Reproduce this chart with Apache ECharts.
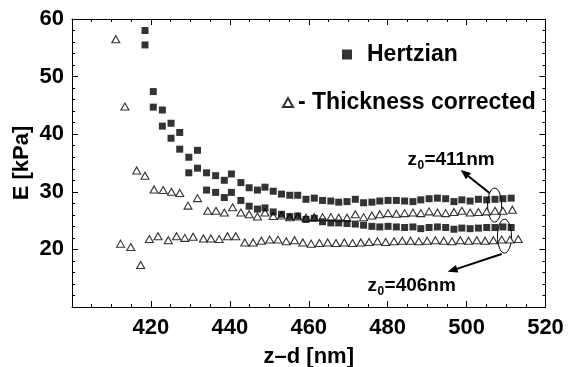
<!DOCTYPE html>
<html>
<head>
<meta charset="utf-8">
<script src="https://cdn.jsdelivr.net/npm/echarts@6/dist/echarts.min.js"></script>
<style>html,body{margin:0;padding:0;background:#fff}#c{width:568px;height:367px}</style>
</head>
<body>
<div id="c"></div>
<script>
// ---- data ----
const xSquares = [418.5, 420.6, 422.9, 425.1, 427.3, 429.6, 431.8, 434.1, 436.4, 438.6, 440.4, 442.8, 444.9, 447.0, 448.9,
  451.0, 453.1, 455.2, 457.2, 459.3, 461.4, 463.5, 465.6, 467.6, 469.7, 471.8, 473.9, 476.0, 478.0, 480.1,
  482.2, 484.3, 486.4, 488.4, 490.5, 492.6, 494.7, 496.8, 498.8, 500.9, 503.0, 505.1, 507.2, 509.2, 511.3];
const hertzianUpper = [58.0, 47.4, 44.2, 41.9, 40.3, 36.0, 37.2, 33.3, 32.8, 32.0, 33.1, 31.6, 30.7, 30.3, 30.8,
  30.1, 29.6, 29.4, 29.4, 28.7, 28.9, 28.5, 28.4, 28.2, 28.3, 28.7, 28.1, 28.2, 28.4, 28.5,
  28.5, 28.4, 28.3, 28.6, 28.8, 28.9, 28.8, 28.3, 28.6, 28.4, 28.7, 28.6, 28.7, 28.8, 28.9];
const hertzianLower = [55.5, 44.7, 41.4, 39.3, 37.4, 33.3, 34.1, 30.3, 29.9, 29.0, 29.9, 28.5, 27.5, 27.0, 27.2,
  26.5, 26.1, 25.7, 25.8, 25.2, 25.4, 24.8, 24.6, 24.6, 24.5, 24.4, 24.2, 24.0, 23.9, 24.0,
  23.9, 23.8, 23.9, 23.6, 23.8, 23.9, 23.8, 23.5, 23.7, 23.6, 23.7, 23.8, 23.8, 23.9, 23.8];
const xTriUpper = [411.1, 413.4, 416.4, 418.5, 420.8, 423.1, 425.2, 427.3, 429.4, 431.8, 434.4, 436.5, 438.6, 440.7, 442.8, 444.9, 447.0, 448.9,
  451.0, 453.1, 455.2, 457.2, 459.3, 461.4, 463.5, 465.6, 467.6, 469.7, 471.8, 473.9, 476.0, 478.0, 480.1,
  482.2, 484.3, 486.4, 488.4, 490.5, 492.6, 494.7, 496.8, 498.8, 500.9, 503.0, 505.1, 507.2, 509.2, 511.6];
const thickUpper = [56.5, 44.8, 33.7, 32.8, 30.4, 30.3, 30.0, 29.8, 27.6, 28.9, 26.7, 26.7, 26.4, 27.3, 26.4, 26.1, 25.7, 26.4,
  25.8, 25.9, 25.6, 25.7, 25.5, 25.6, 25.6, 25.6, 25.5, 25.5, 26.1, 25.6, 25.9, 26.1, 26.3,
  26.2, 26.3, 26.4, 26.3, 26.6, 26.4, 26.3, 26.5, 26.7, 26.4, 26.5, 26.6, 26.7, 26.7, 26.9];
const xTriLower = [412.3, 414.9, 417.4, 419.6, 421.8, 424.4, 426.5, 428.6, 430.7, 433.3, 435.2, 437.3, 439.4, 441.5, 443.8, 445.9, 448.0, 450.1,
  452.2, 454.3, 456.4, 458.5, 460.6, 462.7, 464.8, 466.9, 469.0, 471.1, 473.2, 475.3, 477.4, 479.5, 481.6,
  483.7, 485.8, 487.9, 490.0, 492.1, 494.2, 496.3, 498.4, 500.5, 502.6, 504.7, 506.8, 508.9, 511.0, 513.1];
const thickLower = [21.0, 20.4, 17.3, 21.8, 22.3, 21.6, 22.3, 22.0, 22.2, 21.9, 21.9, 21.8, 22.3, 22.3, 21.2, 21.2, 21.5, 21.7,
  21.7, 21.4, 21.6, 21.2, 21.0, 21.1, 21.2, 21.1, 21.2, 21.1, 21.2, 21.3, 21.4, 21.3, 21.4,
  21.5, 21.5, 21.4, 21.5, 21.6, 21.5, 21.4, 21.6, 21.5, 21.6, 21.5, 21.6, 21.7, 21.7, 21.8];
const xTicks = { min: 400, max: 520, interval: 20 };
const yTicks = { min: 10, max: 60, interval: 10 };
const legendNames = ['Hertzian', 'Thickness corrected'];
const annot411 = { label: '=411nm', text: [485.0, 35.6], ellipse: [507.1, 27.7], from: [505.8, 29.8], to: [498.5, 33.8] };
const annot406 = { label: '=406nm', text: [474.9, 13.65], ellipse: [509.6, 22.3], from: [508.9, 19.2], to: [495.2, 16.1] };

// ---- chart ----
const FONT = '"Liberation Sans", Arial, Helvetica, sans-serif';
const pair = (xs, ys) => xs.map((x, i) => [x, ys[i]]);
const chart = echarts.init(document.getElementById('c'), null, { renderer: 'canvas' });

function axisCommon(showLabel, pos) {
  return {
    position: pos,
    axisLine: { show: true, onZero: false, lineStyle: { color: '#000', width: 1 } },
    axisTick: { show: true, inside: true, length: 6, lineStyle: { color: '#000' } },
    minorTick: { show: true, length: 3, lineStyle: { color: '#000' } },
    splitLine: { show: false },
    axisLabel: { show: showLabel, fontSize: 22, fontWeight: 'bold', color: '#000', fontFamily: FONT, showMinLabel: false }
  };
}
const xa = (show, pos) => Object.assign({ type: 'value', min: xTicks.min, max: xTicks.max, interval: xTicks.interval }, axisCommon(show, pos));
const ya = (show, pos) => Object.assign({ type: 'value', min: yTicks.min, max: yTicks.max, interval: yTicks.interval }, axisCommon(show, pos));

const xBottom = xa(true, 'bottom');
xBottom.minorTick.splitNumber = 4;
xBottom.axisLabel.margin = 10;
xBottom.name = 'z\u2013d [nm]';
xBottom.nameLocation = 'middle';
xBottom.nameGap = 39;
xBottom.nameTextStyle = { fontSize: 22, fontWeight: 'bold', color: '#000', fontFamily: FONT };
const xTop = xa(false, 'top');
xTop.minorTick.splitNumber = 4;
const yLeft = ya(true, 'left');
yLeft.minorTick.splitNumber = 5;
yLeft.axisLabel.margin = 8;
yLeft.name = 'E [kPa]';
yLeft.nameLocation = 'middle';
yLeft.nameGap = 39;
yLeft.nameMoveOverlap = false;
yLeft.nameTextStyle = { fontSize: 22, fontWeight: 'bold', color: '#000', fontFamily: FONT };
const yRight = ya(false, 'right');
yRight.minorTick.splitNumber = 5;

const sqStyle = { symbol: 'rect', symbolSize: 7, itemStyle: { color: '#000' } };
const triStyle = { symbol: 'triangle', symbolSize: [8, 7], itemStyle: { color: '#fff', borderColor: '#000', borderWidth: 1.1 } };

chart.setOption({
  backgroundColor: '#fff',
  animation: false,
  grid: { left: 72, right: 22.5, top: 19, bottom: 60, containLabel: false, outerBoundsMode: 'none' },
  xAxis: [xBottom, xTop],
  yAxis: [yLeft, yRight],
  legend: [
    { data: [legendNames[0]], left: 337, top: 38, orient: 'vertical', itemWidth: 10, itemHeight: 10,
      textStyle: { fontSize: 23, fontWeight: 'bold', color: '#000', fontFamily: FONT, padding: [0, 0, 0, 10] } },
    { data: [legendNames[1]], left: 277, top: 86, orient: 'vertical', itemWidth: 10, itemHeight: 9,
      formatter: n => '- ' + n,
      textStyle: { fontSize: 23, fontWeight: 'bold', color: '#000', fontFamily: FONT, padding: [0, 0, 0, 0] } }
  ],
  series: [
    Object.assign({ type: 'scatter', name: legendNames[1], data: pair(xTriUpper, thickUpper) }, triStyle),
    Object.assign({ type: 'scatter', name: legendNames[1], data: pair(xTriLower, thickLower) }, triStyle),
    Object.assign({ type: 'scatter', name: legendNames[0], data: pair(xSquares, hertzianUpper) }, sqStyle),
    Object.assign({ type: 'scatter', name: legendNames[0], data: pair(xSquares, hertzianLower) }, sqStyle)
  ]
});

function px(p) { return chart.convertToPixel({ gridIndex: 0 }, p); }
function annotation(a) {
  const els = [];
  const t = px(a.text);
  const big = 'bold 19px ' + FONT;
  els.push({ type: 'text', x: t[0], y: t[1], style: { text: 'z', font: big, fill: '#000', verticalAlign: 'middle', align: 'left' } });
  els.push({ type: 'text', x: t[0] + 10, y: t[1] + 6, style: { text: '0', font: 'bold 12px ' + FONT, fill: '#000', verticalAlign: 'middle', align: 'left' } });
  els.push({ type: 'text', x: t[0] + 17, y: t[1], style: { text: a.label, font: big, fill: '#000', verticalAlign: 'middle', align: 'left' } });
  const e = px(a.ellipse);
  els.push({ type: 'ellipse', shape: { cx: e[0], cy: e[1], rx: 7, ry: 17 }, style: { fill: 'none', stroke: '#000', lineWidth: 1 } });
  const f = px(a.from), to = px(a.to);
  const dx = to[0] - f[0], dy = to[1] - f[1], L = Math.hypot(dx, dy), ux = dx / L, uy = dy / L;
  const hl = 10, hw = 4;
  const bx = to[0] - ux * hl, by = to[1] - uy * hl;
  els.push({ type: 'line', shape: { x1: f[0], y1: f[1], x2: bx + ux * 2, y2: by + uy * 2 }, style: { stroke: '#000', lineWidth: 2 } });
  els.push({ type: 'polygon', shape: { points: [[to[0], to[1]], [bx - uy * hw, by + ux * hw], [bx + uy * hw, by - ux * hw]] }, style: { fill: '#000' } });
  return els;
}
chart.setOption({ graphic: annotation(annot411).concat(annotation(annot406)) });
</script>
</body>
</html>
